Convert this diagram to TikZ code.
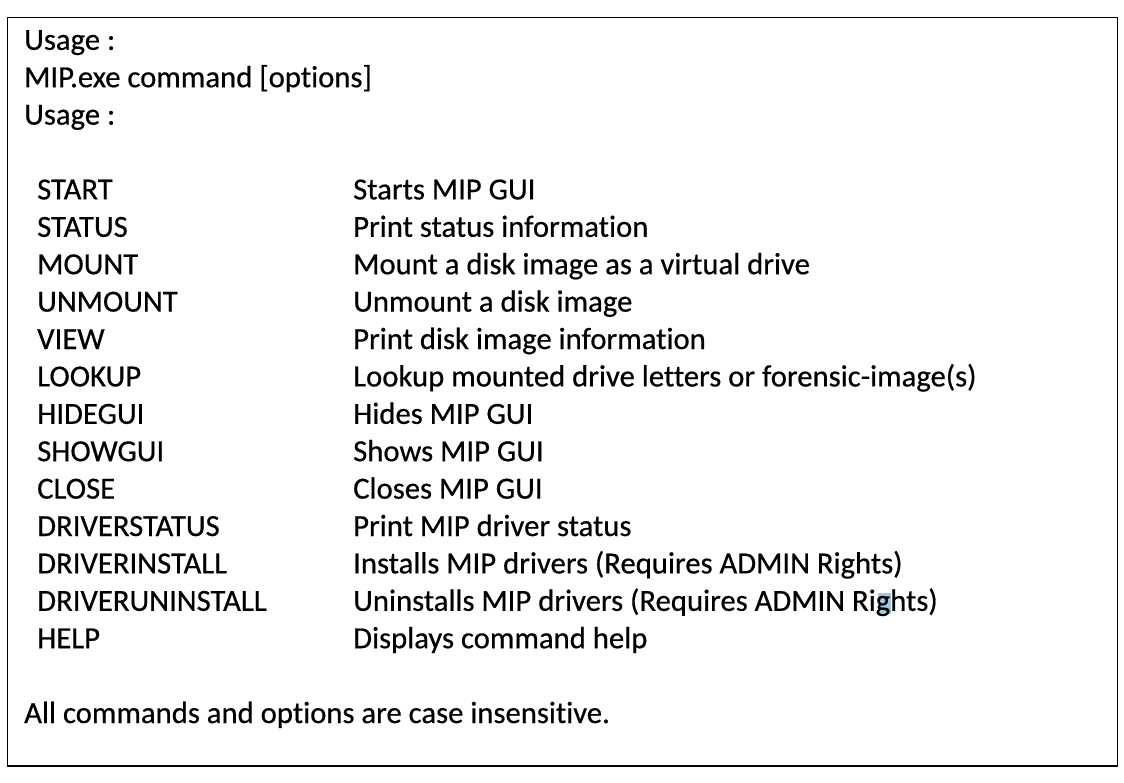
\documentclass[tikz,border=0pt]{standalone}
\usepackage{fontspec}
\setmainfont{Carlito}[Ligatures={NoCommon},FakeBold=0.5]
\definecolor{selblue}{RGB}{160,198,226}
\tikzset{
  line text/.style={
    anchor=base west,
    inner sep=0pt,
    font=\fontsize{30.7}{37}\selectfont,
  }
}
\tikzset{
  frame box/.style={
    draw,
    line width=1.6pt,
  }
}
\newcommand{\rowgap}{37.4}
\newcommand{\firstrow}{49.8}

\begin{document}
\begin{tikzpicture}[
    x=1pt,
    y=-1pt,
    ]

    \useasboundingbox (0,0) rectangle (1124,782);
    \draw[frame box] (7.5,17.5) rectangle (1117.5,766);

    % selection mark on the g
    \fill[selblue] (878,593) rectangle (891,614);

    \node[line text] (usage1) at (24,\firstrow) {Usage :};
    \node[line text] (call) at (24,{\firstrow+\rowgap}) {MIP.exe command [options]};
    \node[line text] (usage2) at (24,{\firstrow+2*\rowgap}) {Usage :};

    \foreach \c/\d [count=\i from 4] in {
        START/Starts MIP GUI,
        STATUS/Print status information,
        MOUNT/Mount a disk image as a virtual drive,
        UNMOUNT/Unmount a disk image,
        VIEW/Print disk image information,
        LOOKUP/Lookup mounted drive letters or forensic-image(s),
        HIDEGUI/Hides MIP GUI,
        SHOWGUI/Shows MIP GUI,
        CLOSE/Closes MIP GUI,
        DRIVERSTATUS/Print MIP driver status,
        DRIVERINSTALL/Installs MIP drivers (Requires ADMIN Rights),
        DRIVERUNINSTALL/Uninstalls MIP drivers (Requires ADMIN Rights),
        HELP/Displays command help}{
      \node[line text] (cmd\i) at (37,{\firstrow+\i*\rowgap}) {\c};
      \node[line text] (desc\i) at (353,{\firstrow+\i*\rowgap}) {\d};
    }

    \node[line text] (note) at (24,{\firstrow+18*\rowgap})
      {All commands and options are case insensitive.};

  \end{tikzpicture}
\end{document}
